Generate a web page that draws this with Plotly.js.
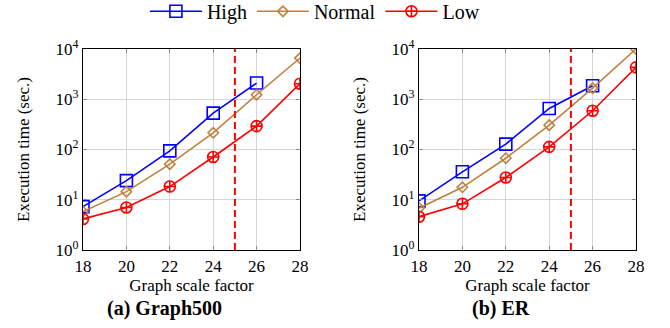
<!DOCTYPE html>
<html>
<head>
<meta charset="utf-8">
<script src="https://cdn.plot.ly/plotly-3.0.1.min.js"></script>
<style>html,body{margin:0;padding:0;background:#fff;}#chart{width:670px;height:328px;}</style>
</head>
<body>
<div id="chart"></div>
<script>
// Data
const scale = [18, 20, 22, 24, 26, 28];
const scaleHigh = [18, 20, 22, 24, 26];

const g500High   = [7.3, 24, 94, 530, 2100];
const g500Normal = [5.8, 14.5, 51, 215, 1230, 6600];
const g500Low    = [4.15, 7.0, 18.3, 71, 292, 2040];

const erHigh   = [9.5, 36, 128, 656, 1860];
const erNormal = [6.8, 17.7, 67, 305, 1670, 10000];
const erLow    = [4.6, 8.3, 27.7, 113, 590, 4310];

const cutoff = 25;
const xTicks = [18, 20, 22, 24, 26, 28];
const yTickVals = [1, 10, 100, 1000, 10000];
const yTickText = ['10<sup>0</sup>', '10<sup>1</sup>', '10<sup>2</sup>', '10<sup>3</sup>', '10<sup>4</sup>'];
const subTitles = ['<b>(a) Graph500</b>', '<b>(b) ER</b>'];
const seriesNames = ['High', 'Normal', 'Low'];

const BLUE = '#0000ff', BROWN = '#bf8040', RED = '#ff0000';
const FONT = 'Liberation Serif, Times New Roman, serif';

function mk(x, y, name, color, symbol, size, xa, ya, show) {
  return {
    x: x, y: y, name: name, type: 'scatter', mode: 'lines+markers',
    xaxis: xa, yaxis: ya, showlegend: show,
    line: {color: color, width: 1.6},
    marker: {symbol: symbol, size: size, color: color, line: {color: color, width: 1.6}}
  };
}

const traces = [
  mk(scaleHigh, g500High, seriesNames[0], BLUE, 'square-open', 12, 'x', 'y', true),
  mk(scale, g500Normal, seriesNames[1], BROWN, 'diamond-open', 8, 'x', 'y', true),
  mk(scale, g500Low, seriesNames[2], RED, 'circle-cross-open', 11, 'x', 'y', true),
  mk(scaleHigh, erHigh, seriesNames[0], BLUE, 'square-open', 12, 'x2', 'y2', false),
  mk(scale, erNormal, seriesNames[1], BROWN, 'diamond-open', 8, 'x2', 'y2', false),
  mk(scale, erLow, seriesNames[2], RED, 'circle-cross-open', 11, 'x2', 'y2', false)
];

const W = 670, H = 328;
const yDom = [(H - 250) / H, (H - 49) / H];

function xax(dom, anchor) {
  return {
    domain: dom, anchor: anchor, range: [18, 28],
    tickvals: xTicks, ticks: 'inside', ticklen: 4, tickcolor: '#888',
    showline: true, linecolor: '#000', linewidth: 1.2, mirror: 'ticks',
    showgrid: true, gridcolor: '#d6d6d6', gridwidth: 1, zeroline: false,
    tickfont: {family: FONT, size: 17, color: '#000'},
    title: {text: 'Graph scale factor', font: {family: FONT, size: 17, color: '#000'}, standoff: 4}
  };
}
function yax(dom, anchor) {
  return {
    domain: dom, anchor: anchor, type: 'log', range: [0, 4],
    tickvals: yTickVals, ticktext: yTickText, ticks: 'inside', ticklen: 4, tickcolor: '#888',
    showline: true, linecolor: '#000', linewidth: 1.2, mirror: 'ticks',
    showgrid: true, gridcolor: '#d6d6d6', gridwidth: 1, zeroline: false,
    tickfont: {family: FONT, size: 17, color: '#000'},
    title: {text: 'Execution time (sec.)', font: {family: FONT, size: 17, color: '#000'}, standoff: 21}
  };
}

const layout = {
  width: W, height: H,
  margin: {l: 0, r: 0, t: 0, b: 0, autoexpand: false},
  paper_bgcolor: '#fff', plot_bgcolor: '#fff',
  font: {family: FONT, color: '#000'},
  xaxis: xax([83 / W, 300 / W], 'y'),
  yaxis: yax(yDom, 'x'),
  xaxis2: xax([419 / W, 636 / W], 'y2'),
  yaxis2: yax(yDom, 'x2'),
  showlegend: true,
  legend: {orientation: 'h', x: 0.47, xanchor: 'center', y: 1.025, yanchor: 'top',
           itemwidth: 52, tracegroupgap: 0,
           font: {family: FONT, size: 20, color: '#000'}, bgcolor: 'rgba(0,0,0,0)'},
  shapes: [
    {type: 'line', xref: 'x', yref: 'y domain', x0: cutoff, x1: cutoff, y0: 0, y1: 1,
     line: {color: RED, width: 2, dash: '7px,4px'}},
    {type: 'line', xref: 'x2', yref: 'y2 domain', x0: cutoff, x1: cutoff, y0: 0, y1: 1,
     line: {color: RED, width: 2, dash: '7px,4px'}}
  ],
  annotations: [
    {text: subTitles[0], xref: 'paper', yref: 'paper', x: 164 / W, y: (H - 308) / H,
     xanchor: 'center', yanchor: 'middle', showarrow: false, font: {family: FONT, size: 20, color: '#000'}},
    {text: subTitles[1], xref: 'paper', yref: 'paper', x: 501 / W, y: (H - 308) / H,
     xanchor: 'center', yanchor: 'middle', showarrow: false, font: {family: FONT, size: 20, color: '#000'}}
  ]
};

Plotly.newPlot('chart', traces, layout, {staticPlot: true, displayModeBar: false});
</script>
</body>
</html>
